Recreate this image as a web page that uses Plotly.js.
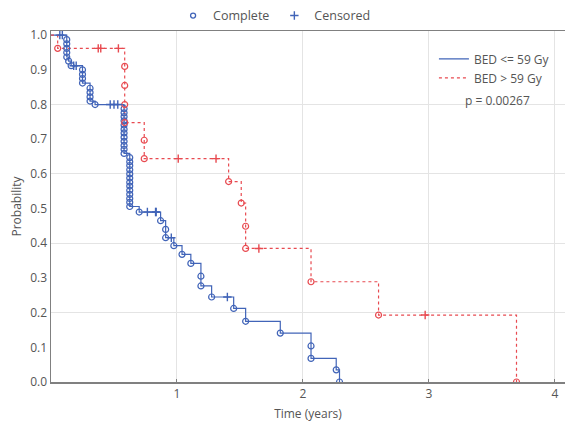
<!DOCTYPE html>
<html>
<head>
<meta charset="utf-8">
<script src="https://cdn.plot.ly/plotly-3.0.1.min.js"></script>
<style>html,body{margin:0;padding:0;background:#fff;}#chart{width:565px;height:427px;}</style>
</head>
<body>
<div id="chart"></div>
<script>
// Group 1: BED <= 59 Gy  (event times and survival after each event)
const lowTimes = [0.125,0.125,0.125,0.125,0.125,0.14,0.16,
  0.25,0.25,0.25,0.25,
  0.31,0.31,0.31,0.31,0.35,
  0.58,0.58,0.58,0.58,0.58,0.58,0.58,0.58,0.58,0.58,0.58,0.58,
  0.625,0.625,0.625,0.625,0.625,0.625,0.625,0.625,0.625,0.625,0.625,0.625,0.625,
  0.70,0.87,0.91,0.91,0.975,1.04,1.11,1.19,1.19,1.275,1.45,1.545,1.82,2.064,2.064,2.264,2.29];
const lowSurv = [0.987,0.975,0.962,0.950,0.937,0.925,0.912,
  0.900,0.887,0.875,0.862,
  0.847,0.835,0.822,0.810,0.800,
  0.788,0.776,0.765,0.753,0.741,0.729,0.718,0.706,0.694,0.682,0.671,0.659,
  0.647,0.635,0.624,0.612,0.600,0.588,0.576,0.565,0.553,0.541,0.529,0.518,0.506,
  0.490,0.465,0.440,0.416,0.393,0.368,0.342,0.305,0.277,0.245,0.212,0.175,0.141,0.104,0.068,0.035,0.0];
const lowCensT = [0.07,0.09,0.18,0.20,0.47,0.50,0.53,0.765,0.83,0.835,0.955,1.40];
const lowCensS = [1.0,1.0,0.912,0.912,0.800,0.800,0.800,0.490,0.490,0.490,0.416,0.245];

// Group 2: BED > 59 Gy
const highTimes = [0.053,0.585,0.585,0.585,0.585,0.74,0.74,1.41,1.51,1.545,1.545,2.064,2.6,3.695];
const highSurv = [0.962,0.910,0.855,0.800,0.748,0.697,0.644,0.578,0.516,0.449,0.385,0.289,0.193,0.0];
const highCensT = [0.375,0.395,0.535,1.01,1.31,1.65,2.97];
const highCensS = [0.962,0.962,0.962,0.644,0.644,0.385,0.193];

const seriesNames = ['BED <= 59 Gy','BED > 59 Gy'];
const pText = 'p = 0.00267';
const xTicks = [1,2,3,4];
const yTicks = [0,0.1,0.2,0.3,0.4,0.5,0.6,0.7,0.8,0.9,1.0];
const yGrid = [0.2,0.4,0.6,0.8];

const blue = '#4164b8';
const red = '#e84a50';
const font = 'Open Sans, Lato, sans-serif';

const traces = [
  {x:[0].concat(lowTimes), y:[1].concat(lowSurv), type:'scatter', mode:'lines', line:{shape:'hv', color:blue, width:1.2},
   name:seriesNames[0], legend:'legend2', showlegend:true},
  {x:[0].concat(highTimes), y:[1].concat(highSurv), type:'scatter', mode:'lines', line:{shape:'hv', color:red, width:1.2, dash:'dot'},
   name:seriesNames[1], legend:'legend2', showlegend:true},
  {x:lowTimes, y:lowSurv, type:'scatter', mode:'markers', marker:{symbol:'circle-open', size:6, color:blue, line:{width:1.2}}, showlegend:false, hoverinfo:'skip'},
  {x:highTimes, y:highSurv, type:'scatter', mode:'markers', marker:{symbol:'circle-open', size:6, color:red, line:{width:1.2}}, showlegend:false, hoverinfo:'skip'},
  {x:lowCensT, y:lowCensS, type:'scatter', mode:'markers', marker:{symbol:'cross-thin', size:6, color:blue, line:{width:1.4, color:blue}}, showlegend:false, hoverinfo:'skip'},
  {x:highCensT, y:highCensS, type:'scatter', mode:'markers', marker:{symbol:'cross-thin', size:6, color:red, line:{width:1.4, color:red}}, showlegend:false, hoverinfo:'skip'},
  {x:[null], y:[null], type:'scatter', mode:'markers', name:'Complete', marker:{symbol:'circle-open', size:5, color:blue, line:{width:1.3}}, legend:'legend'},
  {x:[null], y:[null], type:'scatter', mode:'markers', name:'Censored', marker:{symbol:'cross-thin', size:6, color:blue, line:{width:1.4, color:blue}}, legend:'legend'}
];

const layout = {
  width:565, height:427,
  margin:{l:51, r:0, t:31, b:45},
  paper_bgcolor:'#fff', plot_bgcolor:'#fff',
  font:{family:font, size:12, color:'#555'},
  xaxis:{range:[0,4.08], tickmode:'array', tickvals:xTicks, ticktext:xTicks.map(String),
    showgrid:true, gridcolor:'#e4e4e4', gridwidth:1, zeroline:false,
    showline:true, linecolor:'#808080', linewidth:1.5, mirror:true,
    ticks:'inside', ticklen:3, tickcolor:'#808080',
    title:{text:'Time (years)', font:{size:12, color:'#555'}, standoff:8},
    tickfont:{size:12, color:'#555'}},
  yaxis:{range:[0,1.012], tickmode:'array', tickvals:yTicks, ticktext:yTicks.map(v=>v.toFixed(1)),
    showgrid:false, zeroline:false, showline:true, linecolor:'#808080', linewidth:1.5,
    ticks:'', title:{text:'Probability', font:{size:12, color:'#555'}, standoff:6},
    tickfont:{size:12, color:'#555'}},
  yaxis2:{range:[0,1.012], overlaying:'y', tickmode:'array', tickvals:yGrid, showticklabels:false,
    showgrid:true, gridcolor:'#e4e4e4', gridwidth:1, zeroline:false, showline:false, ticks:''},
  legend:{orientation:'h', x:0.435, xanchor:'center', y:1.043, yanchor:'middle',
    bgcolor:'rgba(0,0,0,0)', font:{size:12.5, color:'#555'}, itemwidth:30},
  legend2:{x:0.745, xanchor:'left', y:0.962, yanchor:'top', bgcolor:'rgba(0,0,0,0)',
    font:{size:12, color:'#555'}, tracegroupgap:0, itemwidth:30},
  annotations:[{xref:'paper', yref:'paper', x:0.868, y:0.803, xanchor:'center', yanchor:'middle',
    text:pText, showarrow:false, font:{size:12, color:'#555'}}],
  showlegend:true
};

// dummy trace to activate yaxis2 gridlines
traces.push({x:[null], y:[null], yaxis:'y2', type:'scatter', mode:'markers', showlegend:false, hoverinfo:'skip'});

Plotly.newPlot('chart', traces, layout, {displayModeBar:false, staticPlot:true});
</script>
</body>
</html>
